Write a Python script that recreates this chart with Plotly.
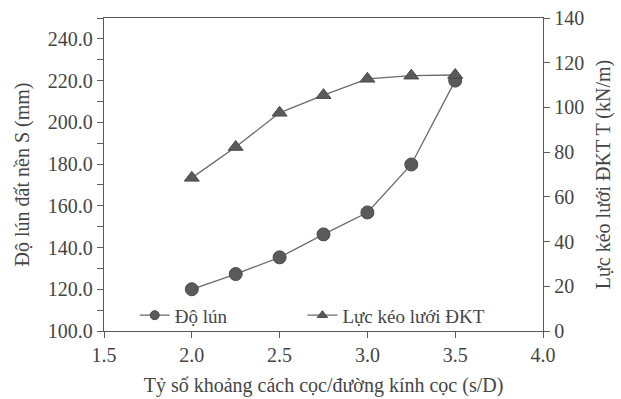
import plotly.graph_objects as go

# Pile spacing ratio s/D
ratio = [2.0, 2.25, 2.5, 2.75, 3.0, 3.25, 3.5]
# Settlement of subgrade S (mm) - left axis
settlement = [120.0, 127.3, 135.3, 146.3, 156.8, 179.8, 220.0]
# Geogrid tensile force T (kN/m) - right axis
tension = [68.5, 82.3, 97.6, 105.5, 112.8, 114.2, 114.5]

series_names = ["Độ lún", "Lực kéo lưới ĐKT"]

font_family = "Liberation Serif"
ink = "#454545"
line_col = "#6a6a6a"
mark_col = "#5a5a5a"
mark_edge = "#4a4a4a"

fig = go.Figure()
# Data traces
fig.add_trace(go.Scatter(
    x=ratio, y=settlement, name=series_names[0], mode="lines+markers",
    line=dict(color=line_col, width=1.3),
    marker=dict(symbol="circle", size=13, color=mark_col,
                line=dict(color=mark_edge, width=1)),
    showlegend=False,
))
fig.add_trace(go.Scatter(
    x=ratio, y=tension, name=series_names[1], mode="lines+markers",
    line=dict(color=line_col, width=1.3),
    marker=dict(symbol="triangle-up", size=13, color=mark_col,
                line=dict(color=mark_edge, width=1)),
    yaxis="y2", showlegend=False,
))
# Legend keys with smaller symbols
for name, sym, leg, ax in [(series_names[0], "circle", "legend", "y"),
                           (series_names[1], "triangle-up", "legend2", "y2")]:
    fig.add_trace(go.Scatter(
        x=[None], y=[None], name=name, mode="lines+markers",
        line=dict(color=line_col, width=1.3),
        marker=dict(symbol=sym, size=9, color=mark_col,
                    line=dict(color=mark_edge, width=1)),
        yaxis=ax, legend=leg, showlegend=True,
    ))

axis_common = dict(
    showgrid=False, zeroline=False, showline=True, linecolor="#5a5a5a",
    linewidth=1.3, ticks="outside", ticklen=6, tickcolor="#5a5a5a",
    tickwidth=1.2, tickfont=dict(family=font_family, size=20, color=ink),
    automargin=False,
)

legend_common = dict(
    yanchor="middle", xanchor="left", bgcolor="rgba(0,0,0,0)",
    font=dict(size=19), itemwidth=30,
)

fig.update_layout(
    width=621, height=399,
    margin=dict(l=104, r=78, t=18, b=68),
    paper_bgcolor="white", plot_bgcolor="white",
    font=dict(family=font_family, size=20, color=ink),
    xaxis=dict(
        range=[1.5, 4.0], dtick=0.5, tickformat=".1f", mirror=True,
        title=dict(text="Tỷ số khoảng cách cọc/đường kính cọc (s/D)",
                   font=dict(size=20), standoff=12),
        **axis_common,
    ),
    yaxis=dict(
        range=[100, 250], tick0=100, dtick=20, tickformat=".1f",
        minor=dict(ticks="outside", dtick=10, ticklen=6, tickcolor="#5a5a5a"),
        title=dict(text="Độ lún đất nền S (mm)", font=dict(size=20), standoff=12),
        **axis_common,
    ),
    yaxis2=dict(
        range=[0, 140], dtick=20, overlaying="y", side="right",
        title=dict(text="Lực kéo lưới ĐKT T (kN/m)", font=dict(size=20), standoff=12),
        **axis_common,
    ),
    legend=dict(x=0.07, y=0.05, **legend_common),
    legend2=dict(x=0.452, y=0.05, **legend_common),
    showlegend=True,
)

fig.write_html("out.html")
